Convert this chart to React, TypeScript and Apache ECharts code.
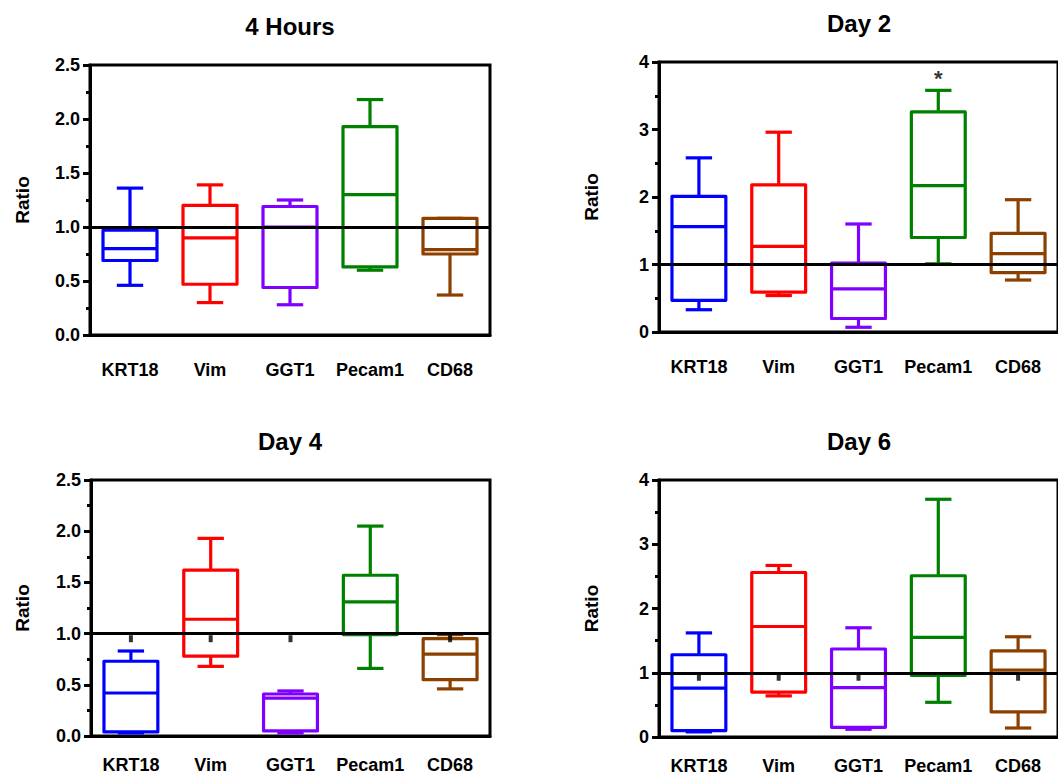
import React, { useEffect, useRef } from "react";
import * as echarts from "echarts";

const categories = ["KRT18", "Vim", "GGT1", "Pecam1", "CD68"];
const boxColors = ["#0000FF", "#FF0000", "#8000FF", "#008000", "#8B4000"];
const panelTitles = ["4 Hours", "Day 2", "Day 4", "Day 6"];

// each row: [min, q1, median, q3, max]
const hours4 = [
  [0.46, 0.69, 0.8, 0.97, 1.36],
  [0.3, 0.47, 0.9, 1.2, 1.39],
  [0.28, 0.44, 1.0, 1.19, 1.25],
  [0.6, 0.63, 1.3, 1.93, 2.18],
  [0.37, 0.75, 0.79, 1.08, 1.08],
];
const day2 = [
  [0.33, 0.47, 1.56, 2.01, 2.58],
  [0.54, 0.59, 1.27, 2.18, 2.96],
  [0.07, 0.2, 0.64, 1.02, 1.6],
  [1.01, 1.4, 2.17, 3.26, 3.58],
  [0.77, 0.88, 1.16, 1.46, 1.96],
];
const day4 = [
  [0.03, 0.04, 0.42, 0.73, 0.83],
  [0.68, 0.78, 1.14, 1.62, 1.93],
  [0.03, 0.05, 0.37, 0.41, 0.44],
  [0.66, 0.99, 1.31, 1.57, 2.05],
  [0.46, 0.55, 0.8, 0.95, 0.99],
];
const day6 = [
  [0.08, 0.1, 0.76, 1.28, 1.62],
  [0.64, 0.7, 1.72, 2.56, 2.67],
  [0.12, 0.15, 0.77, 1.37, 1.7],
  [0.54, 0.96, 1.55, 2.51, 3.7],
  [0.14, 0.39, 1.04, 1.34, 1.56],
];
const panelData = [hours4, day2, day4, day6];

// small black control marks just under the 1.0 line (null = not visible)
const controlHours4: (number | null)[] = [null, null, null, null, null];
const controlDay2: (number | null)[] = [null, null, null, null, null];
const controlDay4: (number | null)[] = [0.95, 0.95, 0.95, null, 0.95];
const controlDay6: (number | null)[] = [0.93, 0.93, 0.93, null, 0.93];
const panelControls = [controlHours4, controlDay2, controlDay4, controlDay6];

const yMax = [2.5, 4, 2.5, 4];
const yInterval = [0.5, 1, 0.5, 1];
const yDecimals = [1, 0, 1, 0];
const referenceValue = 1;
// significance star: Day 2, Pecam1
const starPanel = 1;
const starCategory = 3;
const starValue = 3.76;

const FONT = "'Liberation Sans', Arial, Helvetica, sans-serif";

const layout = [
  { left: 90, top: 65, width: 400, height: 270, labelMargin: 26, titleX: 290, titleY: 26, ratioX: 22 },
  { left: 659, top: 62, width: 401, height: 270, labelMargin: 26, titleX: 859, titleY: 23, ratioX: 591 },
  { left: 91, top: 480, width: 399, height: 256, labelMargin: 20, titleX: 290, titleY: 441, ratioX: 22 },
  { left: 659, top: 480, width: 401, height: 257, labelMargin: 20, titleX: 859, titleY: 441, ratioX: 591 },
];

export default function App() {
  const ref = useRef<HTMLDivElement>(null);

  useEffect(() => {
    document.body.style.margin = "0";
    if (!ref.current) return;
    const chart = echarts.init(ref.current, null, { renderer: "svg" });

    const grid: any[] = [];
    const xAxis: any[] = [];
    const yAxis: any[] = [];
    const series: any[] = [];
    const graphic: any[] = [];

    layout.forEach((L, p) => {
      grid.push({
        left: L.left,
        top: L.top,
        width: L.width,
        height: L.height,
        show: true,
        borderColor: "#000",
        borderWidth: 3,
        backgroundColor: "transparent",
      });
      xAxis.push({
        type: "category",
        gridIndex: p,
        data: categories,
        axisLine: { lineStyle: { color: "#000", width: 3 } },
        axisTick: { show: false },
        axisLabel: {
          interval: 0,
          color: "#000",
          fontFamily: FONT,
          fontWeight: "bold",
          fontSize: 18,
          margin: L.labelMargin,
        },
        splitLine: { show: false },
      });
      yAxis.push({
        type: "value",
        gridIndex: p,
        min: 0,
        max: yMax[p],
        interval: yInterval[p],
        axisLine: { show: true, lineStyle: { color: "#000", width: 3 } },
        axisTick: { show: true, length: 7, lineStyle: { color: "#000", width: 3 } },
        minorTick: { show: true, splitNumber: 2, length: 4, lineStyle: { color: "#000", width: 3 } },
        splitLine: { show: false },
        axisLabel: {
          color: "#000",
          fontFamily: FONT,
          fontWeight: "bold",
          fontSize: 18,
          margin: 10,
          formatter: (v: number) => v.toFixed(yDecimals[p]),
        },
      });

      series.push({
        type: "custom",
        xAxisIndex: p,
        yAxisIndex: p,
        z: 3,
        data: panelData[p].map((r, i) => [i, ...r]),
        encode: { x: 0, y: [1, 2, 3, 4, 5] },
        renderItem: (params: any, api: any) => {
          const idx = api.value(0);
          const x = api.coord([idx, 0])[0];
          const band = api.size([1, 0])[0];
          const bw = band * 0.675;
          const cw = band * 0.33;
          const yMin = api.coord([idx, api.value(1)])[1];
          const yQ1 = api.coord([idx, api.value(2)])[1];
          const yMed = api.coord([idx, api.value(3)])[1];
          const yQ3 = api.coord([idx, api.value(4)])[1];
          const yMx = api.coord([idx, api.value(5)])[1];
          const style = { stroke: boxColors[idx], lineWidth: 3.2, fill: "none", lineJoin: "round" };
          return {
            type: "group",
            children: [
              { type: "line", shape: { x1: x, y1: yMx, x2: x, y2: yQ3 }, style },
              { type: "line", shape: { x1: x, y1: yQ1, x2: x, y2: yMin }, style },
              { type: "line", shape: { x1: x - cw / 2, y1: yMx, x2: x + cw / 2, y2: yMx }, style },
              { type: "line", shape: { x1: x - cw / 2, y1: yMin, x2: x + cw / 2, y2: yMin }, style },
              { type: "rect", shape: { x: x - bw / 2, y: yQ3, width: bw, height: yQ1 - yQ3 }, style },
              { type: "line", shape: { x1: x - bw / 2, y1: yMed, x2: x + bw / 2, y2: yMed }, style },
            ],
          };
        },
        markLine: {
          silent: true,
          symbol: "none",
          label: { show: false },
          lineStyle: { color: "#000", width: 3, type: "solid" },
          data: [{ yAxis: referenceValue }],
        },
      });

      series.push({
        type: "scatter",
        xAxisIndex: p,
        yAxisIndex: p,
        z: 4,
        symbol: "rect",
        symbolSize: [4, 7],
        itemStyle: { color: "#000" },
        data: panelControls[p]
          .map((v, i) => (v === null ? null : [i, v]))
          .filter((d) => d !== null),
      });

      if (p === starPanel) {
        series.push({
          type: "scatter",
          xAxisIndex: p,
          yAxisIndex: p,
          z: 5,
          symbolSize: 0,
          data: [[starCategory, starValue]],
          label: {
            show: true,
            position: "inside",
            formatter: "*",
            color: "#000",
            fontFamily: FONT,
            fontWeight: "bold",
            fontSize: 22,
          },
        });
      }

      graphic.push({
        type: "text",
        x: L.titleX,
        y: L.titleY,
        style: {
          text: panelTitles[p],
          font: `bold 24px ${FONT}`,
          fill: "#000",
          textAlign: "center",
          align: "center",
          textVerticalAlign: "middle",
          verticalAlign: "middle",
        },
      });
      graphic.push({
        type: "text",
        x: L.ratioX,
        y: L.top + L.height / 2,
        rotation: Math.PI / 2,
        style: {
          text: "Ratio",
          font: `bold 19px ${FONT}`,
          fill: "#000",
          textAlign: "center",
          align: "center",
          textVerticalAlign: "middle",
          verticalAlign: "middle",
        },
      });
    });

    chart.setOption({
      animation: false,
      backgroundColor: "#fff",
      grid,
      xAxis,
      yAxis,
      series,
      graphic,
    });

    return () => chart.dispose();
  }, []);

  return (
    <div
      ref={ref}
      style={{ position: "fixed", left: 0, top: 0, width: 1058, height: 776 }}
    />
  );
}
